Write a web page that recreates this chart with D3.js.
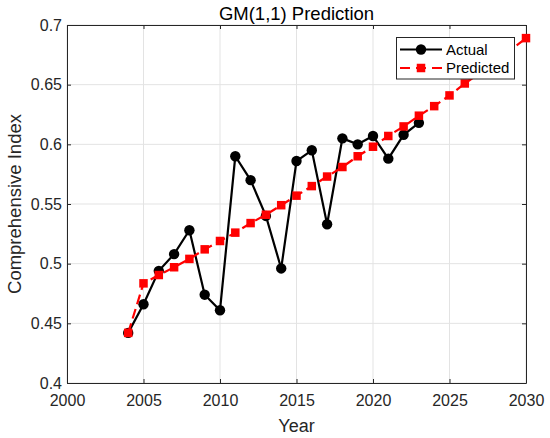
<!DOCTYPE html>
<html><head><meta charset="utf-8">
<script src="https://cdn.jsdelivr.net/npm/d3@7"></script>
<style>body{margin:0;background:#fff;} svg{display:block;font-family:"Liberation Sans",Arial,sans-serif;}</style>
</head><body>
<svg id="c" width="550" height="438"></svg>
<script>
const actualYears = [2004,2005,2006,2007,2008,2009,2010,2011,2012,2013,2014,2015,2016,2017,2018,2019,2020,2021,2022,2023];
const actualValues = [0.442,0.466,0.494,0.508,0.528,0.474,0.461,0.590,0.570,0.540,0.496,0.586,0.595,0.533,0.605,0.600,0.607,0.588,0.608,0.618];
const predYears = [2004,2005,2006,2007,2008,2009,2010,2011,2012,2013,2014,2015,2016,2017,2018,2019,2020,2021,2022,2023,2024,2025,2026,2027,2028,2029,2030];
const predValues = [0.442,0.4835,0.4905,0.497,0.504,0.512,0.519,0.526,0.534,0.541,0.549,0.557,0.565,0.573,0.581,0.590,0.598,0.607,0.615,0.624,0.632,0.641,0.651,0.660,0.670,0.679,0.689];
const xTicks = [2000,2005,2010,2015,2020,2025,2030];
const yTicks = [0.4,0.45,0.5,0.55,0.6,0.65,0.7];
const titleText = "GM(1,1) Prediction";
const xLabel = "Year";
const yLabel = "Comprehensive Index";
const seriesNames = ["Actual","Predicted"];

const svg = d3.select("#c");
const L=67, R=526, T=25, B=383;
const x = d3.scaleLinear().domain([2000,2030]).range([L,R]);
const y = d3.scaleLinear().domain([0.4,0.7]).range([B,T]);
const axisCol = "#262626";

// grid
const g = svg.append("g");
g.selectAll(".gx").data(xTicks).join("line").attr("x1",d=>x(d)).attr("x2",d=>x(d)).attr("y1",T).attr("y2",B).attr("stroke","#e3e3e3").attr("stroke-width",1);
g.selectAll(".gy").data(yTicks).join("line").attr("y1",d=>y(d)).attr("y2",d=>y(d)).attr("x1",L).attr("x2",R).attr("stroke","#e3e3e3").attr("stroke-width",1);

// axes
const xa = svg.append("g").attr("transform",`translate(0,${B})`).call(d3.axisBottom(x).tickValues(xTicks).tickFormat(d3.format("d")).tickSizeInner(-4).tickSizeOuter(0).tickPadding(12));
const ya = svg.append("g").attr("transform",`translate(${L},0)`).call(d3.axisLeft(y).tickValues(yTicks).tickFormat(d=>String(+d.toFixed(2))).tickSizeInner(-4).tickSizeOuter(0).tickPadding(5));
const xt = svg.append("g").attr("transform",`translate(0,${T})`).call(d3.axisTop(x).tickValues(xTicks).tickFormat("").tickSizeInner(-4).tickSizeOuter(0));
const yr = svg.append("g").attr("transform",`translate(${R},0)`).call(d3.axisRight(y).tickValues(yTicks).tickFormat("").tickSizeInner(-4).tickSizeOuter(0));
[xa,ya,xt,yr].forEach(a=>{
  a.select(".domain").attr("stroke",axisCol).attr("stroke-width",1);
  a.selectAll(".tick line").attr("stroke",axisCol);
  a.selectAll("text").attr("fill",axisCol).style("font-size","16px").style("font-family","'Liberation Sans',Arial,sans-serif");
});

// lines
const actual = actualYears.map((d,i)=>({x:d,y:actualValues[i]}));
const pred = predYears.map((d,i)=>({x:d,y:predValues[i]}));
const line = d3.line().x(d=>x(d.x)).y(d=>y(d.y));
svg.append("path").datum(actual).attr("d",line).attr("fill","none").attr("stroke","#000").attr("stroke-width",2.2);
svg.selectAll(".ca").data(actual).join("circle").attr("cx",d=>x(d.x)).attr("cy",d=>y(d.y)).attr("r",5.2).attr("fill","#000");

svg.append("path").datum(pred).attr("d",line).attr("fill","none").attr("stroke","#ff0000").attr("stroke-width",2.2).attr("stroke-dasharray","10,5");
const s=8.5;
svg.selectAll(".sp").data(pred).join("rect").attr("x",d=>x(d.x)-s/2).attr("y",d=>y(d.y)-s/2).attr("width",s).attr("height",s).attr("fill","#ff0000");

// legend
const lg = svg.append("g");
lg.append("rect").attr("x",396.5).attr("y",37.5).attr("width",118).attr("height",41.5).attr("fill","#fff").attr("stroke",axisCol).attr("stroke-width",1);
lg.append("line").attr("x1",400).attr("x2",442).attr("y1",49.5).attr("y2",49.5).attr("stroke","#000").attr("stroke-width",2.2);
lg.append("circle").attr("cx",421).attr("cy",49.5).attr("r",5.2).attr("fill","#000");
lg.append("line").attr("x1",400).attr("x2",442).attr("y1",68).attr("y2",68).attr("stroke","#ff0000").attr("stroke-width",2.2).attr("stroke-dasharray","10,6");
lg.append("rect").attr("x",421-s/2).attr("y",68-s/2).attr("width",s).attr("height",s).attr("fill","#ff0000");
lg.selectAll(".lt").data(seriesNames).join("text").attr("x",446).attr("y",(d,i)=>55+i*18).text(d=>d).attr("fill","#000").style("font-size","15px");

// titles
svg.append("text").attr("x",(L+R)/2).attr("y",20).attr("text-anchor","middle").style("font-size","18.5px").attr("fill","#000").text(titleText);
svg.append("text").attr("x",(L+R)/2).attr("y",432).attr("text-anchor","middle").style("font-size","18px").attr("fill",axisCol).text(xLabel);
svg.append("text").attr("transform",`translate(21,${(T+B)/2}) rotate(-90)`).attr("text-anchor","middle").style("font-size","18.5px").attr("fill",axisCol).text(yLabel);
</script>
</body></html>
